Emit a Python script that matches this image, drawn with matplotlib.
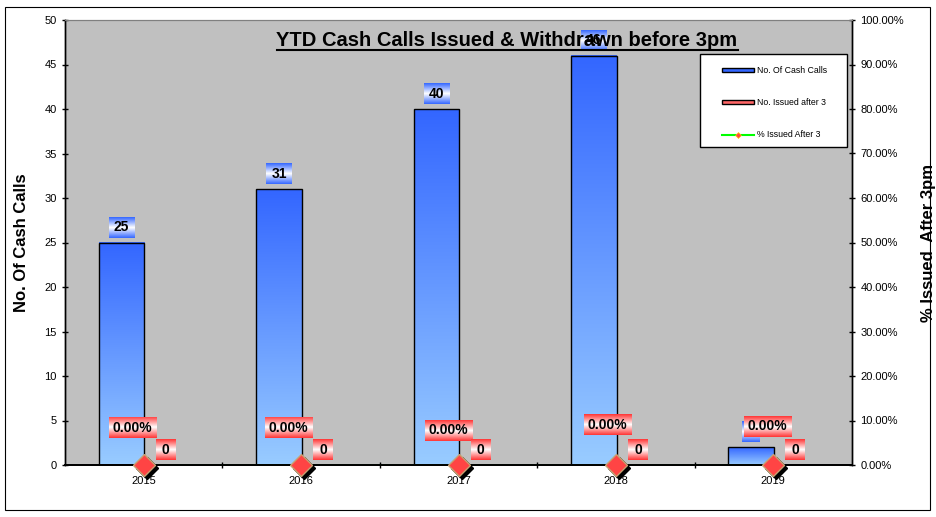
import matplotlib
matplotlib.use("Agg")
import matplotlib.pyplot as plt
import numpy as np
from matplotlib.patches import Rectangle
from matplotlib.colors import LinearSegmentedColormap
from matplotlib.lines import Line2D
from matplotlib.patches import Patch
import matplotlib.transforms as mtransforms

years = ["2015", "2016", "2017", "2018", "2019"]
cash_calls = [25, 31, 40, 46, 2]
issued_after3 = [0, 0, 0, 0, 0]
pct_after3 = [0.0, 0.0, 0.0, 0.0, 0.0]

plt.rcParams['font.family'] = ['Liberation Sans', 'DejaVu Sans']

W, H = 937, 517
fig = plt.figure(figsize=(W/100, H/100), dpi=100)
fig.patch.set_facecolor('white')
# outer border
fig.add_artist(Rectangle((5/W, 7/H), 925/W, 503/H, transform=fig.transFigure,
                         fill=False, edgecolor='black', lw=0.8))

ax = fig.add_axes([65/W, 52/H, 787/W, 445/H])
ax.set_facecolor('#c0c0c0')
ax2 = ax.twinx()

x = np.arange(len(years))
bw = 0.29
off = 0.14

bar_cmap = LinearSegmentedColormap.from_list('b', ['#99ccff', '#3366ff'])
grad = np.linspace(0, 1, 256).reshape(-1, 1)
bars = ax.bar(x - off, cash_calls, bw, color='none', edgecolor='black', lw=1.0, zorder=3)
for b in bars:
    x0, w_, h_ = b.get_x(), b.get_width(), b.get_height()
    ax.imshow(grad, cmap=bar_cmap, origin='lower', aspect='auto',
              extent=(x0, x0 + w_, 0, h_), zorder=2)
bars2 = ax.bar(x + off, issued_after3, bw, color='#ff6666', edgecolor='black', lw=1.0, zorder=3)

ax.set_xlim(-0.5, len(years) - 0.5)
ax.set_ylim(0, 50)
ax.set_yticks(np.arange(0, 51, 5))
ax2.set_ylim(0, 1)
ax2.set_yticks(np.arange(0, 1.01, 0.1))
ax2.set_yticklabels([f"{v*100:.2f}%" for v in np.arange(0, 1.01, 0.1)])

# line series on secondary axis (lies on the axis line)
ax2.plot(x, pct_after3, color='#00ff00', lw=1.0, zorder=1, clip_on=True)
shadow = mtransforms.offset_copy(ax2.transData, fig=fig, x=3, y=-3, units='dots')
ax2.plot(x, pct_after3, linestyle='none', marker='D', ms=11, color='black',
         transform=shadow, clip_on=False, zorder=5)
ax2.plot(x, pct_after3, linestyle='none', marker='D', ms=11, markerfacecolor='#ff4444',
         markeredgecolor='#c8a070', mew=1.0, clip_on=False, zorder=6)

ax.set_xticks(x)
ax.set_xticklabels(years)
ax.set_xticks(np.arange(-0.5, len(years), 1.0)[1:-1], minor=True)
ax.tick_params(axis='x', which='major', length=0, labelsize=8, pad=8)
ax.tick_params(axis='x', which='minor', length=4, direction='inout', width=1)
ax.tick_params(axis='y', direction='inout', length=5, labelsize=8, width=1)
ax2.tick_params(axis='y', direction='inout', length=5, labelsize=8, width=1)

for a in (ax, ax2):
    a.spines['top'].set_color('#808080')
    a.spines['top'].set_linewidth(0.8)
    a.spines['left'].set_linewidth(1)
    a.spines['right'].set_linewidth(1)
    a.spines['bottom'].set_linewidth(1.3)

ax.set_ylabel("No. Of Cash Calls", fontsize=12, fontweight='bold', va='center')
ax.yaxis.set_label_coords((22 - 65) / 787, 0.5)
ax2.set_ylabel("% Issued  After 3pm", fontsize=12, fontweight='bold', va='center')
ax2.yaxis.set_label_coords((928 - 65) / 787, 0.5)

# data labels (placeholders, replaced by gradient boxes later)
labels = []
for xi, v in zip(x, cash_calls):
    t = ax.annotate(f"{v}", (xi - off, v), xytext=(0, 11), textcoords='offset points',
                    ha='center', va='center', fontsize=10, fontweight='bold')
    labels.append((t, ['#3366ff', '#ffffff', '#3366ff'], 5))
pct_offsets = [27, 27, 25, 29, 28]
pct_dx = [-8, -9, -7, -6, -4]
for xi, v, dy, dx in zip(x, pct_after3, pct_offsets, pct_dx):
    t = ax2.annotate(f"{v*100:.2f}%", (xi, v), xytext=(dx, dy), textcoords='offset points',
                     ha='center', va='center', fontsize=10, fontweight='bold')
    labels.append((t, ['#ff3333', '#ffffff', '#ff3333'], 4))
for xi, v in zip(x, issued_after3):
    t = ax.annotate(f"{v}", (xi + off, v), xytext=(0, 11), textcoords='offset points',
                    ha='center', va='center', fontsize=10, fontweight='bold')
    labels.append((t, ['#ff3333', '#ffffff', '#ff3333'], 6))

# legend (frame drawn separately)
ax2.add_patch(Rectangle(((700 - 65) / 787, 1 - (147 - 20) / 445), 147 / 787, 93 / 445,
                        transform=ax2.transAxes, facecolor='white', edgecolor='black',
                        lw=1, zorder=9, clip_on=False))
handles = [Patch(facecolor='#3366ff', edgecolor='black'),
           Patch(facecolor='#ff6666', edgecolor='black'),
           Line2D([0], [0], color='#00ff00', lw=1.5, marker='D', ms=3,
                  markerfacecolor='#ff4444', markeredgecolor='#ffcc00', mew=0.5)]
leg = ax2.legend(handles, ["No. Of Cash Calls", "No. Issued after 3", "% Issued After 3"],
                 loc='upper left', bbox_to_anchor=((722 - 65) / 787, 1 - (66 - 20) / 445),
                 fontsize=6.3, frameon=False,
                 handlelength=3.7, handleheight=0.3, labelspacing=2.65,
                 borderpad=0, borderaxespad=0, handletextpad=0.35)
leg.set_zorder(10)

# title
fig.text(507/W, 1 - 40/H, "YTD Cash Calls Issued & Withdrawn before 3pm",
         ha='center', va='center', fontsize=14.5, fontweight='bold', zorder=30)
fig.add_artist(Line2D([277/W, 738/W], [1 - 50/H, 1 - 50/H], color='black', lw=1.5,
                      transform=fig.transFigure, zorder=30))

# gradient boxes behind labels
fig.canvas.draw()
r = fig.canvas.get_renderer()
inv = fig.transFigure.inverted()
for i, (t, cols, padx) in enumerate(labels):
    bb = t.get_window_extent(r)
    cx, cy = (bb.x0 + bb.x1) / 2, (bb.y0 + bb.y1) / 2
    x0, x1 = bb.x0 - padx, bb.x1 + padx
    y0, y1 = cy - 10.5, cy + 10.5
    cm = LinearSegmentedColormap.from_list('g%d' % i, cols)
    (fx0, fy0), (fx1, fy1) = inv.transform([(x0, y0), (x1, y1)])
    axb = fig.add_axes([fx0, fy0, fx1 - fx0, fy1 - fy0], zorder=7 + i * 0.1)
    axb.imshow(grad, cmap=cm, aspect='auto', origin='lower', extent=(0, 1, 0, 1))
    axb.set_xlim(0, 1)
    axb.set_ylim(0, 1)
    axb.axis('off')
    axb.text(0.5, 0.5, t.get_text(), ha='center', va='center', fontsize=10,
             fontweight='bold', transform=axb.transAxes)
    t.remove()

fig.savefig("out.png", dpi=100)
